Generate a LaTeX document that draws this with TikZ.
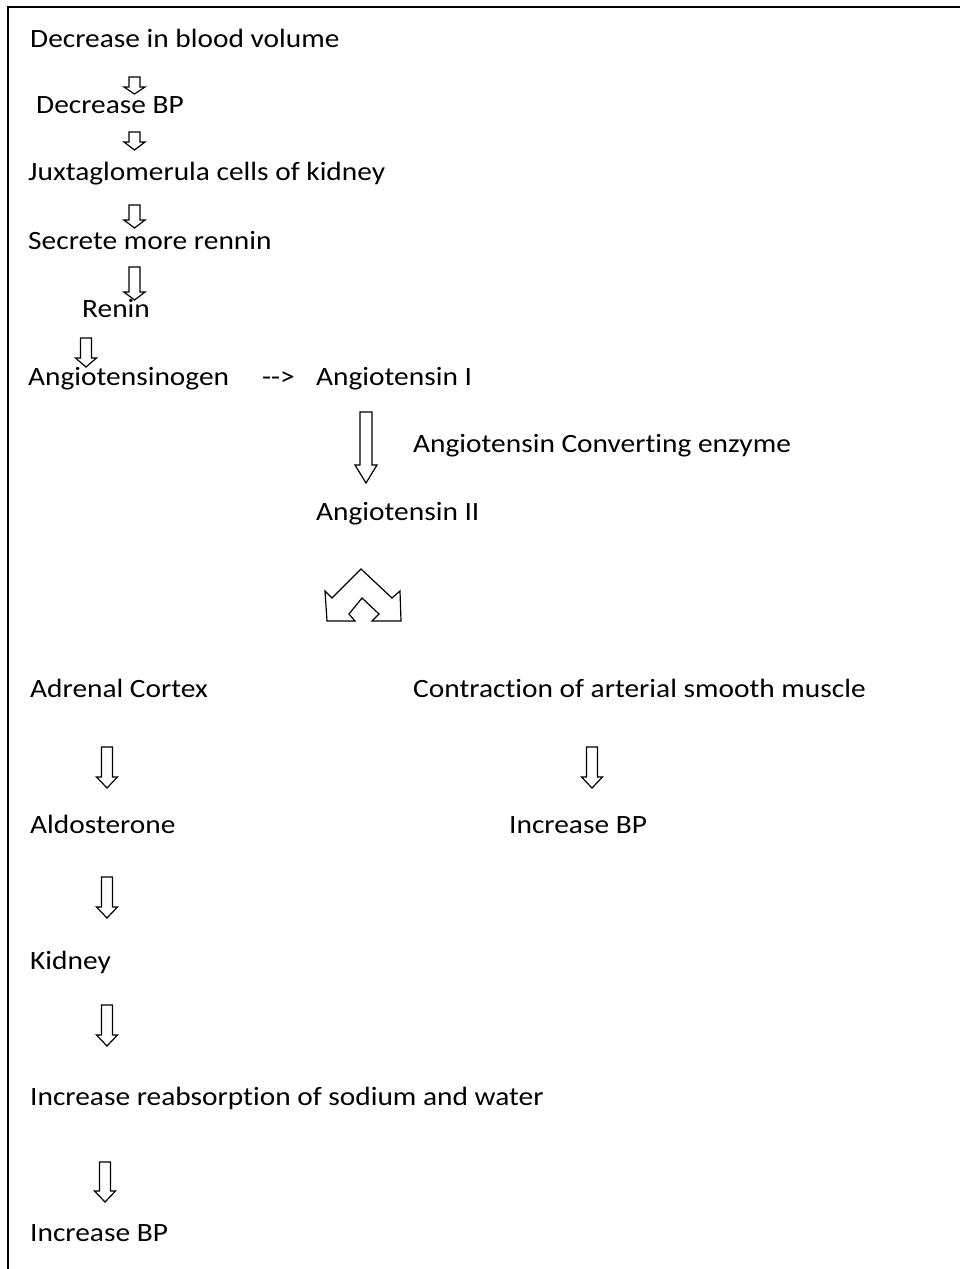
\documentclass[tikz,border=0pt]{standalone}
\usepackage{fontspec}
\setmainfont{Carlito}[Ligatures={TeXOff,CommonOff},FakeStretch=1.113]
\begin{document}
\begin{tikzpicture}[x=1bp,y=-1bp,
  txt/.style={anchor=base west,inner sep=0pt,font=\fontsize{26.5}{30}\selectfont},
  blk/.style={draw=black,line width=1.2bp,fill=white,line join=miter}]
\useasboundingbox (0,0) rectangle (960,1269);
% frame
\draw[line width=2bp] (960,7) -- (7.5,7) -- (7.5,1269);
% texts
\node[txt] (t1) at (30,47) {Decrease in blood volume};
\node[txt] (t2) at (36,113) {Decrease BP};
\node[txt] (t3) at (28,180) {Juxtaglomerula cells of kidney};
\node[txt] (t4) at (28,249) {Secrete more rennin};
\node[txt] (t5) at (82,317) {Renin};
\node[txt] (t6) at (28,385) {Angiotensinogen};
\node[txt] (t6a) at (262,385) {-->};
\node[txt] (t7) at (316,385) {Angiotensin I};
\node[txt] (t8) at (413,452) {Angiotensin Converting enzyme};
\node[txt] (t9) at (316,520) {Angiotensin II};
\node[txt] (t10) at (30,697) {Adrenal Cortex};
\node[txt] (t11) at (413,697) {Contraction of arterial smooth muscle};
\node[txt] (t12) at (30,833) {Aldosterone};
\node[txt] (t13) at (509,833) {Increase BP};
\node[txt] (t14) at (30,969) {Kidney};
\node[txt] (t15) at (30,1105) {Increase reabsorption of sodium and water};
\node[txt] (t16) at (30,1241) {Increase BP};
% block arrows: center x, top y, head start y, tip y, shaft half, head half
\newcommand{\blockarr}[6]{%
  \draw[blk] (#1-#5,#2) -- (#1+#5,#2) -- (#1+#5,#3) -- (#1+#6,#3) -- (#1,#4)
    -- (#1-#6,#3) -- (#1-#5,#3) -- cycle;}
\blockarr{134.5}{77}{87}{94}{5.5}{10.5}
\blockarr{134.5}{132}{142}{150}{5.5}{10.5}
\blockarr{134.5}{205}{220}{228}{5.5}{10.5}
\blockarr{134.5}{267}{292}{300}{5.5}{10.5}
\blockarr{86}{338}{358}{367}{5.5}{10.5}
\blockarr{366}{412}{465}{483}{6}{11}
\blockarr{107}{747}{777}{788}{5.5}{10.5}
\blockarr{592}{747}{777}{788}{5.5}{10.5}
\blockarr{107}{877}{907}{918}{5.5}{10.5}
\blockarr{107}{1005}{1035}{1046}{5.5}{10.5}
\blockarr{105}{1162}{1191}{1202}{5.5}{10.5}
% forked double arrow
\draw[blk] (361,569) -- (392,598) -- (400,591) -- (401,621) -- (372,621)
  -- (379,614) -- (362,598) -- (349,614) -- (355,621) -- (327,621)
  -- (325,591) -- (332,598) -- cycle;
\end{tikzpicture}
\end{document}
